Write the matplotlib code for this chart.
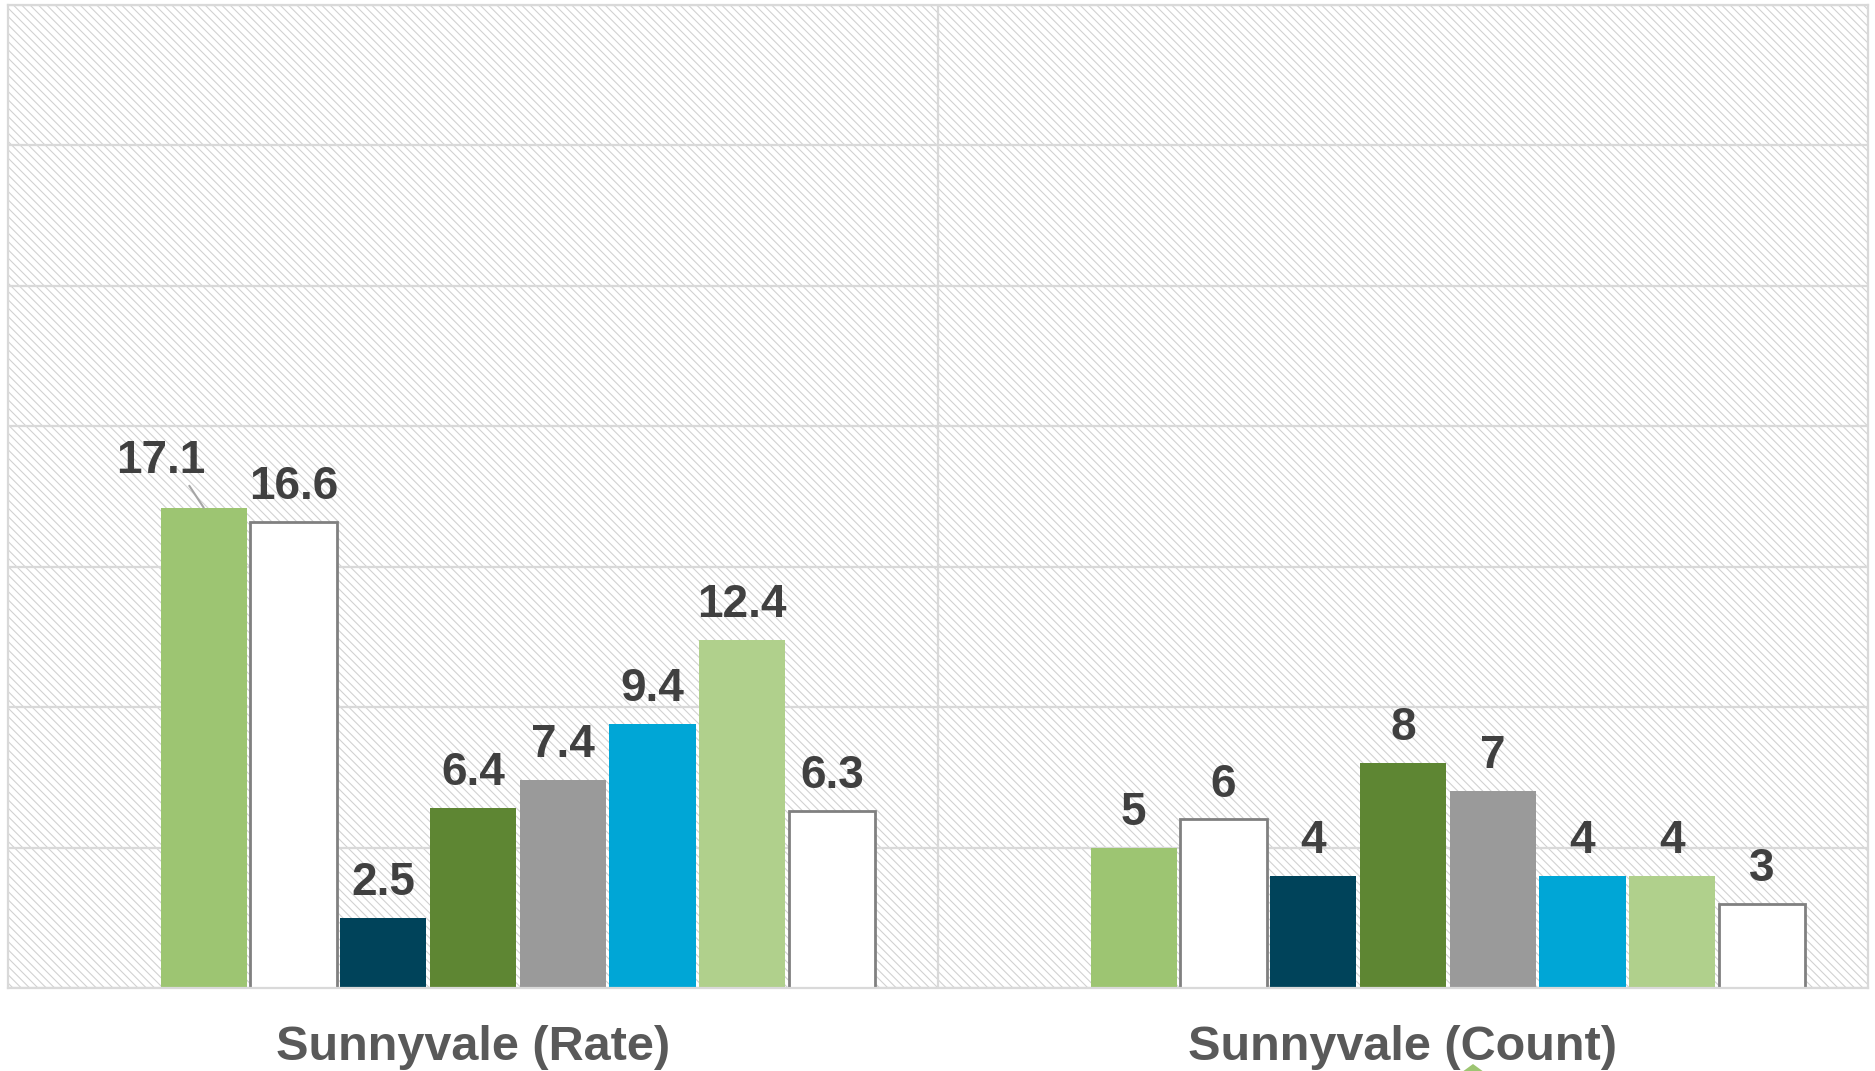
"""Sunnyvale rate / count grouped bars."""
import numpy as np
import matplotlib
matplotlib.use("Agg")
import matplotlib.pyplot as plt
from matplotlib import font_manager
from matplotlib.patches import Rectangle

# the source text is a condensed Arial look; use the narrow face if it's there
names = {f.name for f in font_manager.fontManager.ttflist}
if "Liberation Sans Narrow" in names:
    family = "Liberation Sans Narrow"
    val_size, cat_size = 37.5, 41
else:
    family = "Liberation Sans"
    val_size, cat_size = 33, 35
plt.rcParams['font.family'] = [family, 'DejaVu Sans']
plt.rcParams['hatch.linewidth'] = 0.8

categories = ["Sunnyvale (Rate)", "Sunnyvale (Count)"]
series_names = ["S1", "S2", "S3", "S4", "S5", "S6", "S7", "S8"]
rate_values = [17.1, 16.6, 2.5, 6.4, 7.4, 9.4, 12.4, 6.3]
count_values = [5, 6, 4, 8, 7, 4, 4, 3]
colors = ["#9dc572", "#ffffff", "#00435a", "#5e8633",
          "#9a9a9a", "#00a6d6", "#b0d08c", "#ffffff"]
edges = [None, "#808080", None, None, None, None, None, "#808080"]

n_slots = 9          # one empty slot in front of the eight series
pitch = 0.0965
width = 0.0925

fig = plt.figure(figsize=(18.75, 10.71), dpi=100)
ax = fig.add_axes([8 / 1875, 1 - 988 / 1071, 1860 / 1875, 983 / 1071])

# hatched background
ax.add_patch(Rectangle((0, 0), 1, 1, transform=ax.transAxes, facecolor="white",
                       edgecolor="#d2d2d2", hatch="\\\\\\\\", linewidth=0, zorder=0))

x = np.arange(len(categories))
data = np.array([rate_values, count_values])
for i, name in enumerate(series_names):
    pos = x + (i + 1 - (n_slots - 1) / 2) * pitch
    ec = edges[i] if edges[i] else colors[i]
    lw = 2 if edges[i] else 0
    bars = ax.bar(pos, data[:, i], width, color=colors[i], edgecolor=ec,
                  linewidth=lw, zorder=2, label=name)
    for j, b in enumerate(bars):
        v = data[j, i]
        txt = ("%g" % v)
        if i == 0 and j == 0:
            ax.annotate(txt, (b.get_x() + b.get_width() / 2, v),
                        xytext=(-31, 25), textcoords="offset points",
                        ha="center", va="baseline", fontsize=val_size,
                        fontweight="bold", color="#404040",
                        arrowprops=dict(arrowstyle="-", color="#a6a6a6", lw=1.5,
                                        relpos=(0.8, 0), shrinkA=0, shrinkB=0))
        else:
            ax.annotate(txt, (b.get_x() + b.get_width() / 2, v),
                        xytext=(0, 16.5), textcoords="offset points",
                        ha="center", va="baseline", fontsize=val_size,
                        fontweight="bold", color="#404040")

ax.set_xlim(-0.5, 1.5)
ax.set_ylim(0, 35)
ax.set_yticks(np.arange(0, 36, 5))
ax.yaxis.grid(True, color="#d9d9d9", linewidth=1.6)
ax.set_axisbelow(True)
ax.axvline(0.5, color="#d9d9d9", linewidth=1.6, zorder=1)
ax.set_xticks([])
ax.tick_params(left=False, labelleft=False)
for s in ax.spines.values():
    s.set_color("#d9d9d9")
    s.set_linewidth(1.6)

for xi, cat in zip(x, categories):
    fig.text(8 / 1875 + (xi + 0.5) * 930 / 1875, 11 / 1071, cat, ha="center",
             va="baseline", fontsize=cat_size, fontweight="bold", color="#595959")

# tip of a green marker cut off by the lower edge
fig.patches.append(plt.Polygon([[1458 / 1875, -4 / 1071], [1488 / 1875, -4 / 1071],
                                [1473 / 1875, 7 / 1071]], closed=True,
                               transform=fig.transFigure, facecolor="#9dc572",
                               edgecolor="none"))

fig.savefig("out.png", dpi=100)
